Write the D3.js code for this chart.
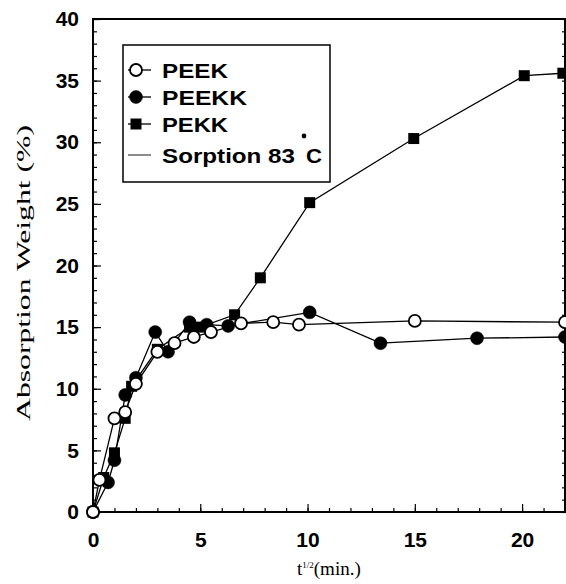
<!DOCTYPE html>
<html><head><meta charset="utf-8">
<script src="https://cdn.jsdelivr.net/npm/d3@7"></script>
<style>body{margin:0;background:#fff}</style>
</head><body>
<svg id="c" width="566" height="584"></svg>
<script>
// ---- data ----
const peekX  = [0, 0.3, 1.0, 1.5, 2.0, 3.0, 3.8, 4.7, 5.5, 6.9, 8.4, 9.6, 15.0, 22.0];
const peekY  = [0, 2.6, 7.6, 8.1, 10.4, 13.0, 13.7, 14.2, 14.6, 15.3, 15.4, 15.2, 15.5, 15.4];
const peekkX = [0, 0.7, 1.0, 1.5, 2.0, 2.9, 3.5, 4.5, 5.3, 6.3, 10.1, 13.4, 17.9, 22.0];
const peekkY = [0, 2.4, 4.2, 9.5, 10.9, 14.6, 13.0, 15.4, 15.2, 15.1, 16.2, 13.7, 14.1, 14.2];
const pekkX  = [0, 0.5, 1.0, 1.5, 1.8, 3.0, 4.5, 5.0, 6.6, 7.8, 10.1, 14.95, 20.1, 21.9];
const pekkY  = [0, 2.8, 4.8, 7.6, 10.2, 13.2, 15.0, 15.0, 16.0, 19.0, 25.1, 30.3, 35.4, 35.6];
const xMajor = [0, 5, 10, 15, 20];
const yMajor = [0, 5, 10, 15, 20, 25, 30, 35, 40];
const legendNames = ["PEEK", "PEEKK", "PEKK", "Sorption 83"];

const svg = d3.select("#c");
const L = 93, R = 565, T = 19, B = 512;
const x = d3.scaleLinear().domain([0, 22]).range([L, R]);
const y = d3.scaleLinear().domain([0, 40]).range([B, T]);
const tickFont = "'Liberation Sans', Arial, sans-serif";

// minor ticks
const xMinor = d3.range(0, 23, 1);
const yMinor = d3.range(0, 41, 1);
const gx = svg.append("g").attr("transform", `translate(0,${B})`);
gx.call(d3.axisBottom(x).tickValues(xMinor).tickSize(-4).tickFormat(""));
gx.call(g => g.select(".domain").remove());
const gx2 = svg.append("g").attr("transform", `translate(0,${B})`);
gx2.call(d3.axisBottom(x).tickValues(xMajor).tickSize(-8).tickPadding(20).tickFormat(d3.format("d")));
gx2.call(g => g.select(".domain").remove());

const gy = svg.append("g").attr("transform", `translate(${L},0)`);
gy.call(d3.axisLeft(y).tickValues(yMinor).tickSize(-4).tickFormat(""));
gy.call(g => g.select(".domain").remove());
const gy2 = svg.append("g").attr("transform", `translate(${L},0)`);
gy2.call(d3.axisLeft(y).tickValues(yMajor).tickSize(-8).tickPadding(14).tickFormat(d3.format("d")));
gy2.call(g => g.select(".domain").remove());

const gr = svg.append("g").attr("transform", `translate(${R},0)`);
gr.call(d3.axisRight(y).tickValues(yMinor).tickSize(-3).tickFormat(""));
gr.call(g => g.select(".domain").remove());

svg.selectAll(".tick line").attr("stroke", "#000").attr("stroke-width", 1.2);
svg.selectAll(".tick text").attr("font-family", tickFont).attr("font-weight", "bold")
  .attr("font-size", 21).attr("fill", "#000");

// frame
svg.append("rect").attr("x", L).attr("y", T).attr("width", R - L).attr("height", B - T)
  .attr("fill", "none").attr("stroke", "#000").attr("stroke-width", 2);

// axis titles
svg.append("text").attr("transform", `translate(30,273) rotate(-90)`)
  .attr("text-anchor", "middle").attr("fill", "#000")
  .attr("font-family", "'Liberation Serif', 'Times New Roman', serif")
  .attr("font-size", 18).attr("textLength", 296).attr("lengthAdjust", "spacingAndGlyphs")
  .text("Absorption Weight (%)");
const xt = svg.append("text").attr("x", 297).attr("y", 575).attr("fill", "#000")
  .attr("font-family", "'Liberation Serif', 'Times New Roman', serif").attr("font-size", 19);
xt.append("tspan").text("t");
xt.append("tspan").attr("font-size", 9).attr("dy", -7).text("1/2");
xt.append("tspan").attr("dy", 7).text("(min.)");

// series
const mk = (xs, ys) => xs.map((v, i) => [v, ys[i]]);
const series = [
  {name: "PEKK", data: mk(pekkX, pekkY), shape: "square", fill: "#000"},
  {name: "PEEKK", data: mk(peekkX, peekkY), shape: "circle", fill: "#000"},
  {name: "PEEK", data: mk(peekX, peekY), shape: "circle", fill: "#fff"}
];
const line = d3.line().x(d => x(d[0])).y(d => y(d[1]));
series.forEach(s => {
  svg.append("path").datum(s.data).attr("d", line).attr("fill", "none")
    .attr("stroke", "#000").attr("stroke-width", 1.3);
});
function drawMarker(g, cx, cy, shape, fill) {
  if (shape === "square") {
    g.append("rect").attr("x", cx - 5.5).attr("y", cy - 5.5).attr("width", 11).attr("height", 11)
      .attr("fill", "#000");
  } else {
    g.append("circle").attr("cx", cx).attr("cy", cy).attr("r", fill === "#fff" ? 6 : 6.5)
      .attr("fill", fill).attr("stroke", "#000").attr("stroke-width", fill === "#fff" ? 1.8 : 0.5);
  }
}
series.forEach(s => {
  const g = svg.append("g");
  s.data.forEach(d => drawMarker(g, x(d[0]), y(d[1]), s.shape, s.fill));
});

// legend
svg.append("rect").attr("x", 123).attr("y", 45).attr("width", 207).attr("height", 137)
  .attr("fill", "#fff").attr("stroke", "#000").attr("stroke-width", 1.5);
const legRows = [
  {name: legendNames[0], shape: "circle", fill: "#fff", yy: 70, w: 66},
  {name: legendNames[1], shape: "circle", fill: "#000", yy: 97, w: 85},
  {name: legendNames[2], shape: "square", fill: "#000", yy: 124, w: 66},
  {name: legendNames[3], shape: null, fill: null, yy: 155, w: 133}
];
const lg = svg.append("g");
legRows.forEach(r => {
  lg.append("line").attr("x1", 128).attr("x2", 151).attr("y1", r.yy).attr("y2", r.yy)
    .attr("stroke", "#000").attr("stroke-width", r.shape ? 1.3 : 0.9);
  if (r.shape) drawMarker(lg, 136, r.yy, r.shape, r.fill);
  lg.append("text").attr("x", 162).attr("y", r.yy + 7.5)
    .attr("font-family", tickFont).attr("font-weight", "bold").attr("font-size", 20)
    .attr("textLength", r.w).attr("lengthAdjust", "spacingAndGlyphs")
    .text(r.name);
  if (!r.shape) {
    lg.append("circle").attr("cx", 304).attr("cy", 136).attr("r", 2.4).attr("fill", "#000");
    lg.append("text").attr("x", 306).attr("y", r.yy + 7.5)
      .attr("font-family", tickFont).attr("font-weight", "bold").attr("font-size", 20)
      .attr("textLength", 16).attr("lengthAdjust", "spacingAndGlyphs")
      .text("C");
  }
});
</script>
</body></html>
